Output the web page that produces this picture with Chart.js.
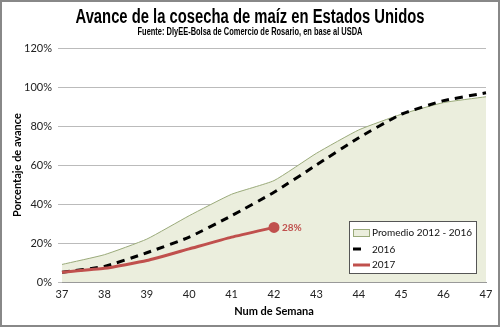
<!DOCTYPE html>
<html>
<head>
<meta charset="utf-8">
<script src="https://cdn.jsdelivr.net/npm/chart.js@4"></script>
<style>
  html, body { margin: 0; padding: 0; background: #fff; }
  #wrap { width: 500px; height: 327px; }
</style>
</head>
<body>
<div id="wrap"><canvas id="cosechaChart" width="500" height="327"></canvas></div>
<script>
// Semanas y porcentajes de avance
const semanas = ['37', '38', '39', '40', '41', '42', '43', '44', '45', '46', '47'];
const promedio = [9, 14, 22, 34, 45, 52, 66, 78, 86, 92, 95];
const avance2016 = [5, 8, 15, 23, 34, 46, 60, 74, 86, 93, 97];
const avance2017 = [5, 7, 11, 17, 23, 28];
const yTicks = [0, 20, 40, 60, 80, 100, 120];

const titulo = 'Avance de la cosecha de maíz en Estados Unidos';
const fuente = 'Fuente: DIyEE-Bolsa de Comercio de Rosario, en base al USDA';

const rojo = '#c0504d';

// texto angosto (tipo Arial Narrow) escalando en horizontal
function textoAngosto(ctx, txt, font, cx, cy, ancho) {
    ctx.save();
    ctx.font = font;
    const w = ctx.measureText(txt).width;
    const k = ancho / w;
    ctx.translate(cx, cy);
    ctx.scale(k, 1);
    ctx.textAlign = 'center';
    ctx.textBaseline = 'middle';
    ctx.fillStyle = '#000';
    ctx.fillText(txt, 0, 0);
    ctx.restore();
}

// Marco exterior, titulos, etiqueta 28% y leyenda dentro del area
const extras = {
    id: 'extras',
    afterDraw(chart) {
        const ctx = chart.ctx;
        ctx.save();
        // borde del grafico
        ctx.strokeStyle = '#888';
        ctx.lineWidth = 2;
        ctx.strokeRect(1, 1, chart.width - 2, chart.height - 2);

        textoAngosto(ctx, titulo, 'bold 20px "Liberation Sans"', 250, 17, 349);
        textoAngosto(ctx, fuente, 'bold 10px "Liberation Sans"', 250, 32, 225);

        // etiqueta del ultimo dato 2017
        const meta = chart.getDatasetMeta(2);
        const last = meta.data[meta.data.length - 1];
        ctx.fillStyle = rojo;
        ctx.font = 'bold 10px Lato';
        ctx.textBaseline = 'middle';
        ctx.fillText(avance2017[avance2017.length - 1] + '%', last.x + 8, last.y);

        // leyenda
        const lx = 349, ly = 221;
        ctx.fillStyle = '#fff';
        ctx.fillRect(lx, ly, 127, 52);
        ctx.strokeStyle = '#555';
        ctx.lineWidth = 1;
        ctx.strokeRect(lx + 0.5, ly + 0.5, 127, 52);
        ctx.font = '10px Lato';
        // promedio
        ctx.fillStyle = '#ebeedd';
        ctx.fillRect(lx + 4, ly + 8, 16, 7);
        ctx.strokeStyle = '#9aaa7a';
        ctx.strokeRect(lx + 4.5, ly + 8.5, 16, 7);
        ctx.fillStyle = '#111';
        ctx.fillText('Promedio 2012 - 2016', lx + 23, ly + 12);
        // 2016
        ctx.strokeStyle = '#000';
        ctx.lineWidth = 3;
        ctx.beginPath();
        ctx.moveTo(lx + 4, ly + 28);
        ctx.lineTo(lx + 12, ly + 28);
        ctx.stroke();
        ctx.fillText('2016', lx + 23, ly + 29);
        // 2017
        ctx.strokeStyle = rojo;
        ctx.beginPath();
        ctx.moveTo(lx + 4, ly + 44);
        ctx.lineTo(lx + 21, ly + 44);
        ctx.stroke();
        ctx.fillText('2017', lx + 23, ly + 44);
        ctx.restore();
    }
};

const ctx = document.getElementById('cosechaChart').getContext('2d');
new Chart(ctx, {
    type: 'line',
    data: {
        labels: semanas,
        datasets: [{
            label: 'Promedio 2012 - 2016',
            data: promedio,
            borderColor: '#9aaa7a',
            backgroundColor: '#ebeedd',
            borderWidth: 1,
            fill: 'origin',
            pointRadius: 0,
            tension: 0.15,
            order: 3
        }, {
            label: '2016',
            data: avance2016,
            borderColor: '#000',
            borderWidth: 3,
            borderDash: [8, 6],
            fill: false,
            pointRadius: 0,
            tension: 0.15,
            order: 2
        }, {
            label: '2017',
            data: avance2017,
            borderColor: rojo,
            backgroundColor: rojo,
            borderWidth: 3,
            fill: false,
            pointRadius: avance2017.map((v, i) => i === avance2017.length - 1 ? 4 : 0),
            tension: 0.15,
            order: 1
        }]
    },
    options: {
        responsive: false,
        animation: false,
        layout: { padding: { left: 2, right: 14, top: 48, bottom: 9 } },
        plugins: {
            legend: { display: false },
            tooltip: { enabled: false },
            title: { display: false }
        },
        scales: {
            x: {
                offset: false,
                grid: { display: false, drawTicks: false, tickLength: 0 },
                border: { color: '#999' },
                afterFit(scale) { scale.height = 36; },
                ticks: { color: '#222', font: { family: 'Lato', size: 11 }, padding: 6, maxRotation: 0 },
                title: {
                    display: true,
                    text: 'Num de Semana',
                    color: '#000',
                    font: { family: 'Lato', size: 11, weight: 'bold' },
                    padding: { top: 0, bottom: 0 }
                }
            },
            y: {
                min: 0,
                max: 120,
                afterBuildTicks(scale) {
                    scale.ticks = yTicks.map(v => ({ value: v }));
                },
                afterFit(scale) { scale.width = 60; },
                grid: { color: '#bbb', tickLength: 4, drawTicks: true },
                border: { display: false },
                ticks: {
                    color: '#222',
                    font: { family: 'Lato', size: 11 },
                    padding: 6,
                    callback: v => v + '%'
                },
                title: {
                    display: true,
                    text: 'Porcentaje de avance',
                    color: '#000',
                    font: { family: 'Lato', size: 11, weight: 'bold' },
                    padding: { top: 9, bottom: 2 }
                }
            }
        }
    },
    plugins: [extras]
});
</script>
</body>
</html>
